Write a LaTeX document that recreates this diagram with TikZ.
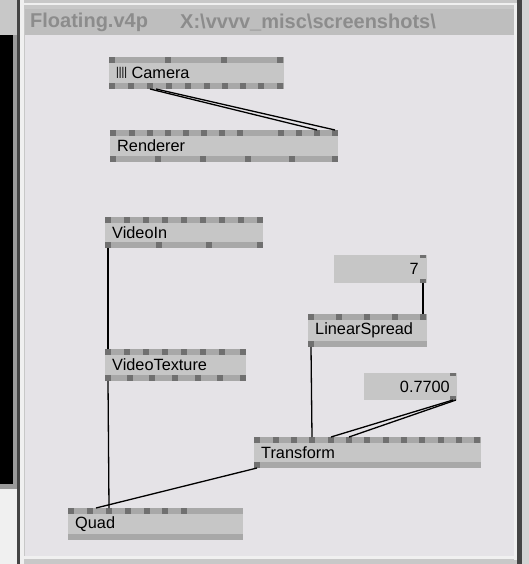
\documentclass[tikz,border=0pt]{standalone}
\usepackage{fontspec}
\setmainfont{Liberation Sans}
\definecolor{panelbg}{HTML}{E5E3E7}
\definecolor{bodycol}{HTML}{C6C6C6}
\definecolor{barcol}{HTML}{A8A8A8}
\definecolor{pincol}{HTML}{707070}
\definecolor{titlebg}{HTML}{BEBEBE}
\definecolor{titletext}{HTML}{8C8C8C}
\definecolor{framedark}{HTML}{444444}
\definecolor{framelight}{HTML}{F0F0F0}
\definecolor{framegrey}{HTML}{C8C8C8}
\definecolor{framemid}{HTML}{9A9A9A}
\newcommand\vvnode[6]{%
  \node[boxbody, minimum width={#4-#2}, minimum height={#5-#3}, anchor=north west] (#1) at (#2,#3) {};
  \fill[barcol] (#2,#3) rectangle (#4,{#3+6});
  \fill[barcol] (#2,{#5-6}) rectangle (#4,#5);
  \node[lbl] (#1-txt) at ({#2+7},{(#3+#5)/2}) {#6};
}
\newcommand\vvpins[6]{% name, prefix, y1, y2, anchor y, list
  \foreach \p [count=\i] in {#6} {
    \fill[pincol] (\p,#3) rectangle ({\p+6},#4);
    \coordinate (#1-#2\i) at ({\p+3},#5);
  }
}
\begin{document}
\begin{tikzpicture}[x=1pt,y=-1pt,
  boxbody/.style={fill=bodycol, draw=none, inner sep=0pt, outer sep=0pt},
  lbl/.style={anchor=west, inner sep=0pt, font=\fontsize{16.3}{19}\selectfont, text=black},
  iolbl/.style={anchor=east, inner sep=0pt, font=\fontsize{16.3}{19}\selectfont, text=black},
  link/.style={draw=black, line width=1.3pt},
  ttl/.style={anchor=west, inner sep=0pt, font=\bfseries\fontsize{20}{24}\selectfont, text=titletext}]
\useasboundingbox (0,0) rectangle (529,564);
% outer surroundings
\fill[framegrey] (0,0) rectangle (529,564);
\fill[framemid] (0,35) rectangle (17,489);
\fill[black] (0,35) rectangle (13,484);
\fill[framelight] (0,489) rectangle (17,564);
\fill[framedark] (17,0) rectangle (19.5,564);
\fill[framelight] (19.5,0) rectangle (24,564);
\fill[framelight] (24,3) rectangle (517,5);
% panel
\fill[titlebg] (25,9) rectangle (514,35);
\fill[panelbg] (25,35) rectangle (514,556);
\fill[framelight] (514,5) rectangle (517,560);
\fill[framedark] (517,0) rectangle (521.5,564);
\fill[framegrey!80] (521.5,0) rectangle (529,564);
\fill[framelight] (24,556) rectangle (517,559);
\node[ttl] (title1) at (30,22) {Floating.v4p};
\node[ttl] (title2) at (180,22) {X:\textbackslash vvvv\_misc\textbackslash screenshots\textbackslash};
% nodes
\vvnode{cam}{109}{57}{284}{89}{\scalebox{0.6}[1]{IIII} Camera}
\vvpins{cam}{t}{57}{63}{57}{109,165,221,277}
\vvpins{cam}{b}{83}{89}{89}{109,128,147,166,185,204,222,240,258,277}
\vvnode{ren}{110}{130}{338}{162}{Renderer}
\vvpins{ren}{t}{130}{136}{130}{110,129,147,165,183,201,219,237,278,296,314,332}
\vvpins{ren}{b}{156}{162}{162}{110,155,200,245,289,332}
\vvnode{vin}{105}{217}{263}{248}{VideoIn}
\vvpins{vin}{t}{217}{223}{217}{105,124,143,162,181,200,219,238,257}
\vvpins{vin}{b}{242}{248}{248}{105,156,206,257}
\vvnode{vtex}{105}{349}{246}{381}{VideoTexture}
\vvpins{vtex}{t}{349}{355}{349}{105,124,143,162,181,200,219,240}
\vvpins{vtex}{b}{375}{381}{381}{105,127,149,172,195,217,240}
\vvnode{ls}{308}{314}{427}{347}{LinearSpread}
\vvpins{ls}{t}{314}{320}{314}{308,336,364,392,420}
\vvpins{ls}{b}{341}{347}{347}{308}
\vvnode{tr}{254}{437}{481}{468}{Transform}
\vvpins{tr}{t}{437}{443}{437}{254,273,291,309,328,346,364,383,401,419,438,456,474}
\vvpins{tr}{b}{462}{468}{468}{254}
\vvnode{quad}{68}{508}{243}{540}{Quad}
\vvpins{quad}{t}{508}{514}{508}{68,87,106,125,144,162,181}
% IO boxes
\node[boxbody, minimum width=93, minimum height=28, anchor=north west] (io7) at (334,255) {};
\node[iolbl] (io7-txt) at (419,269) {7};
\vvpins{io7}{t}{255}{258}{255}{420}
\vvpins{io7}{b}{279}{283}{283}{420}
\node[boxbody, minimum width=93, minimum height=27, anchor=north west] (io77) at (364,373) {};
\node[iolbl] (io77-txt) at (450,386.5) {0.7700};
\vvpins{io77}{t}{373}{376}{373}{450}
\vvpins{io77}{b}{396}{400}{400}{450}
% links
\draw[link] (cam-b3) -- (ren-t11);
\draw[link] ([xshift=6pt]cam-b3) -- (ren-t12);
\draw[link] (vin-b1) -- (vtex-t1);
\draw[link] (io7-b1) -- (ls-t5);
\draw[link] (ls-b1) -- (tr-t4);
\draw[link] (io77-b1) -- (tr-t5);
\draw[link] ([xshift=3pt]io77-b1) -- (tr-t6);
\draw[link] (vtex-b1) -- (quad-t3);
\draw[link] (tr-b1) -- ([xshift=6pt]quad-t2);
\end{tikzpicture}
\end{document}
